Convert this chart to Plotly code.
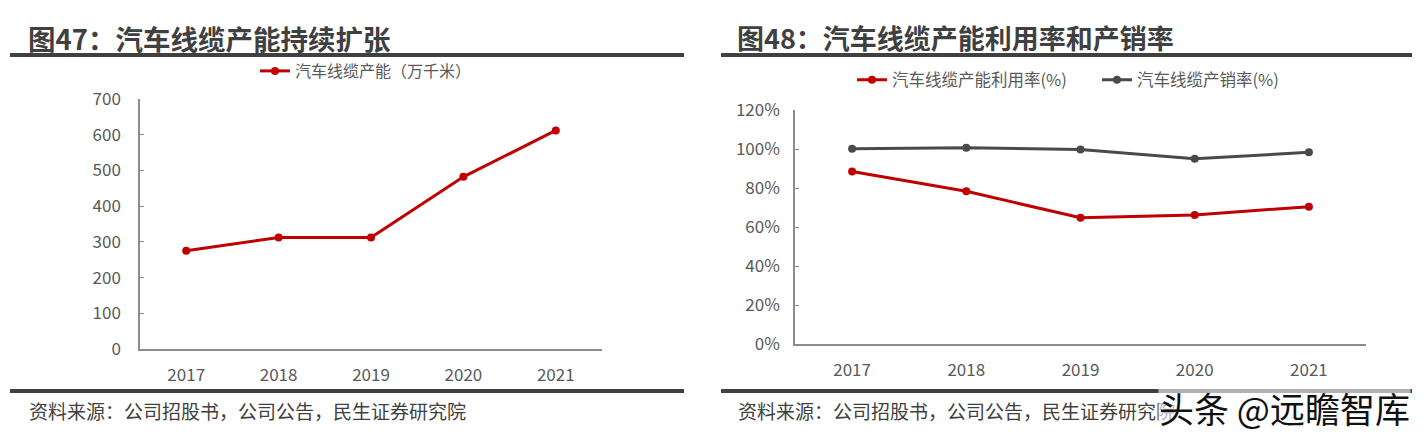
import plotly.graph_objects as go

years = ["2017", "2018", "2019", "2020", "2021"]
capacity = [275, 312, 312, 482, 612]
utilization = [88.5, 78.3, 64.7, 66.2, 70.4]
sales_ratio = [100.1, 100.6, 99.7, 95.0, 98.3]

left_ticks = [0, 100, 200, 300, 400, 500, 600, 700]
right_ticks = [0, 20, 40, 60, 80, 100, 120]
right_labels = [f"{v}%" for v in right_ticks]

W, H = 1426, 437
RED = "#C00000"
GRAY = "#4A4A4A"
TXT = "#595959"
CJK = "Noto Sans CJK SC, Noto Sans, sans-serif"

fig = go.Figure()
fig.add_trace(go.Scatter(x=years, y=capacity, mode="lines+markers", name="汽车线缆产能（万千米）",
                         line=dict(color=RED, width=3), marker=dict(size=8, color=RED),
                         xaxis="x", yaxis="y", legend="legend"))
fig.add_trace(go.Scatter(x=years, y=utilization, mode="lines+markers", name="汽车线缆产能利用率(%)",
                         line=dict(color=RED, width=3), marker=dict(size=8, color=RED),
                         xaxis="x2", yaxis="y2", legend="legend2"))
fig.add_trace(go.Scatter(x=years, y=sales_ratio, mode="lines+markers", name="汽车线缆产销率(%)",
                         line=dict(color=GRAY, width=3), marker=dict(size=8, color=GRAY),
                         xaxis="x2", yaxis="y2", legend="legend2"))

axis_common = dict(showline=True, linecolor="#8C8C8C", linewidth=1.5, showgrid=False, zeroline=False,
                   automargin=False, tickfont=dict(family=CJK, size=17, color=TXT))

fig.update_layout(
    template="none",
    width=W, height=H, margin=dict(l=0, r=0, t=0, b=0, autoexpand=False),
    paper_bgcolor="white", plot_bgcolor="white",
    font=dict(family=CJK, color=TXT),
    xaxis=dict(domain=[140 / W, 602 / W], anchor="y", type="category", range=[-0.5, 4.5],
               ticks="", ticklabelstandoff=10, **axis_common),
    yaxis=dict(domain=[1 - 349 / H, 1 - 99 / H], anchor="x", range=[0, 700], tickvals=left_ticks,
               ticks="inside", ticklen=4, tickcolor="#8C8C8C", tickwidth=1.2, ticklabelstandoff=14,
               **axis_common),
    xaxis2=dict(domain=[795 / W, 1366 / W], anchor="y2", type="category", range=[-0.5, 4.5],
                ticks="", ticklabelstandoff=10, **axis_common),
    yaxis2=dict(domain=[1 - 344 / H, 1 - 110 / H], anchor="x2", range=[0, 120], tickvals=right_ticks,
                ticktext=right_labels, ticks="inside", ticklen=4, tickcolor="#8C8C8C", tickwidth=1.2,
                ticklabelstandoff=10, **axis_common),
    legend=dict(orientation="h", x=366 / W, xanchor="center", y=1 - 71 / H, yanchor="middle",
                font=dict(family=CJK, size=16, color=TXT), bgcolor="rgba(0,0,0,0)", itemwidth=30),
    legend2=dict(orientation="h", x=852 / W, xanchor="left", y=1 - 80 / H, yanchor="middle",
                 font=dict(family=CJK, size=16.5, color=TXT), bgcolor="rgba(0,0,0,0)", itemwidth=30,
                 entrywidth=200, entrywidthmode="pixels"),
    showlegend=True,
)

shapes = []
for x0, x1 in [(10, 684), (721, 1412)]:
    shapes.append(dict(type="line", xref="paper", yref="paper", x0=x0 / W, x1=x1 / W,
                       y0=1 - 55 / H, y1=1 - 55 / H, line=dict(color="#404040", width=4)))
    shapes.append(dict(type="line", xref="paper", yref="paper", x0=x0 / W, x1=x1 / W,
                       y0=1 - 391 / H, y1=1 - 391 / H, line=dict(color="#404040", width=4)))
fig.update_layout(shapes=shapes)

annotations = [
    dict(text="<b>图47：汽车线缆产能持续扩张</b>", x=26 / W, y=1 - 38 / H, xanchor="left", yanchor="middle",
         font=dict(family=CJK, size=27.5, color="#404040")),
    dict(text="<b>图48：汽车线缆产能利用率和产销率</b>", x=735 / W, y=1 - 38 / H, xanchor="left", yanchor="middle",
         font=dict(family=CJK, size=27, color="#404040")),
    dict(text="资料来源：公司招股书，公司公告，民生证券研究院", x=27 / W, y=1 - 410 / H, xanchor="left",
         yanchor="middle", font=dict(family=CJK, size=19, color="#404040")),
    dict(text="资料来源：公司招股书，公司公告，民生证券研究院", x=736 / W, y=1 - 410 / H, xanchor="left",
         yanchor="middle", font=dict(family=CJK, size=19, color="#404040")),
    dict(text="头条 @远瞻智库", x=1411 / W, y=1 - 407 / H, xanchor="right", yanchor="middle",
         bgcolor="rgba(255,255,255,0.6)", borderpad=0,
         font=dict(family=CJK, size=35, color="#111111")),
]
for a in annotations:
    a.update(xref="paper", yref="paper", showarrow=False)
fig.update_layout(annotations=annotations)

fig.write_html("out.html")
